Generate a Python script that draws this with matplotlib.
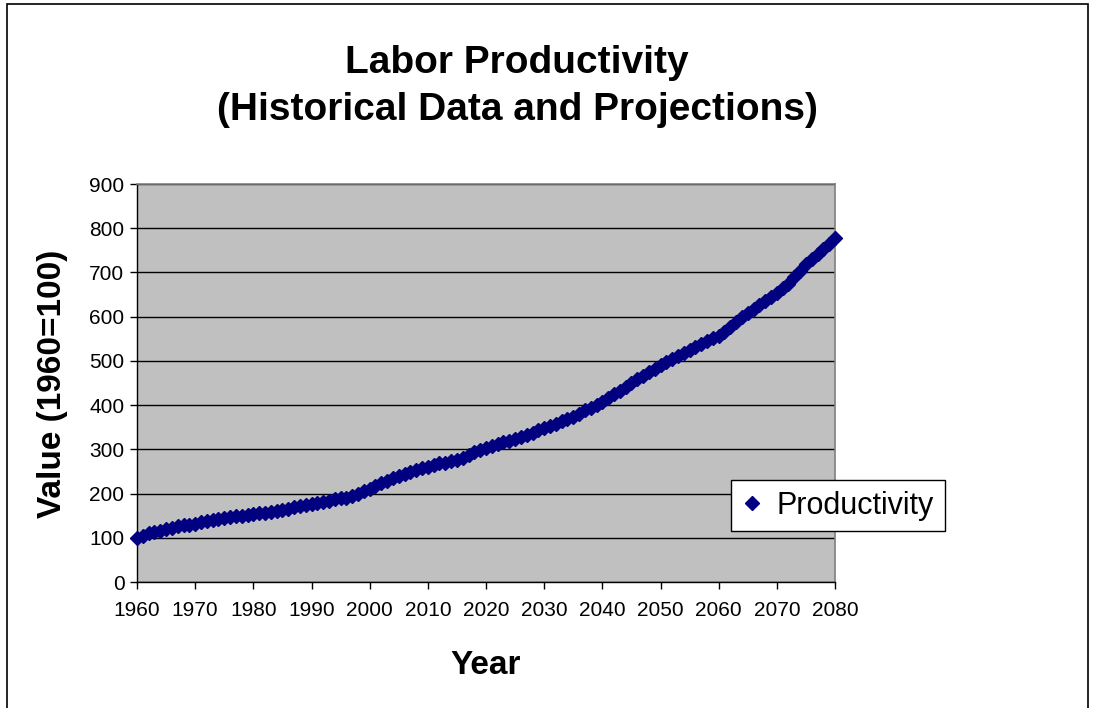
import numpy as np
import matplotlib
matplotlib.use("Agg")
import matplotlib.pyplot as plt
from matplotlib.lines import Line2D

plt.rcParams['font.family'] = ['Liberation Sans', 'DejaVu Sans']

# yearly values (1960 = 100)
years = list(range(1960, 2081))
productivity = [
    100, 105, 110, 112, 115, 119, 123, 126, 129, 130,   # 1960s
    132, 136, 138, 140, 142, 145, 147, 149, 150, 151,   # 1970s
    153, 155, 157, 159, 160, 163, 166, 169, 172, 174,   # 1980s
    176, 178, 180, 184, 187, 189, 191, 194, 200, 205,   # 1990s
    211, 217, 223, 229, 235, 240, 244, 249, 253, 257,   # 2000s
    261, 265, 268, 270, 273, 276, 281, 288, 294, 299,   # 2010s
    303, 308, 312, 316, 319, 323, 328, 333, 338, 343,   # 2020s
    348, 353, 358, 363, 368, 373, 380, 388, 394, 400,   # 2030s
    406, 415, 424, 432, 441, 449, 458, 466, 474, 482,   # 2040s
    490, 497, 504, 511, 518, 524, 531, 538, 545, 551,   # 2050s
    557, 566, 577, 588, 599, 609, 618, 627, 636, 645,   # 2060s
    654, 664, 675, 690, 704, 718, 730, 742, 753, 765,   # 2070s
    777,
]
x_ticks = list(range(1960, 2081, 10))
y_ticks = list(range(0, 901, 100))

W, H = 1093, 708
fig = plt.figure(figsize=(W / 100, H / 100), dpi=100)
fig.patch.set_facecolor('white')

# outer chart border
fig.add_artist(plt.Rectangle((7 / W, -0.01), (1088 - 7) / W, (H - 4) / H + 0.01,
                             transform=fig.transFigure, fill=False,
                             edgecolor='black', linewidth=1.2))

left, right, top, bottom = 137, 835, 184, 582
ax = fig.add_axes([left / W, 1 - bottom / H, (right - left) / W, (bottom - top) / H])
ax.set_facecolor('#C0C0C0')

ax.plot(years, productivity, linestyle='none', marker='D', markersize=7.5,
        color='#000080', markeredgecolor='#000080', zorder=3, clip_on=False)

ax.set_xlim(1960, 2080)
ax.set_ylim(0, 900)
ax.set_xticks(x_ticks)
ax.set_yticks(y_ticks)
ax.tick_params(axis='both', labelsize=15, direction='out', length=5, width=1,
               color='black', labelcolor='black')
ax.tick_params(axis='x', pad=9)
ax.tick_params(axis='y', pad=4)
ax.yaxis.grid(True, color='black', linewidth=1)
ax.set_axisbelow(True)

for s in ['left', 'bottom']:
    ax.spines[s].set_color('black')
    ax.spines[s].set_linewidth(1)
for s in ['top', 'right']:
    ax.spines[s].set_color('#808080')
    ax.spines[s].set_linewidth(1.2)

fig.text(517 / W, 1 - 63 / H, 'Labor Productivity', ha='center', va='center',
         fontsize=28, fontweight='bold')
fig.text(517 / W, 1 - 110 / H, '(Historical Data and Projections)', ha='center',
         va='center', fontsize=28, fontweight='bold')
fig.text(486 / W, 1 - 665 / H, 'Year', ha='center', va='center',
         fontsize=24, fontweight='bold')
fig.text(52 / W, 1 - 384 / H, 'Value (1960=100)', ha='center', va='center',
         rotation=90, fontsize=24, fontweight='bold')

handle = Line2D([], [], linestyle='none', marker='D', markersize=7,
                color='#000080')
leg = ax.legend([handle], ['Productivity'], loc='upper left',
                bbox_to_anchor=(731 / W, 1 - 480 / H), bbox_transform=fig.transFigure,
                borderaxespad=0, fontsize=22, frameon=True, fancybox=False,
                framealpha=1, edgecolor='black', handlelength=0.7,
                handletextpad=0.45, borderpad=0.35)
leg.get_frame().set_linewidth(1)

fig.savefig('out.png', dpi=100, facecolor='white')
